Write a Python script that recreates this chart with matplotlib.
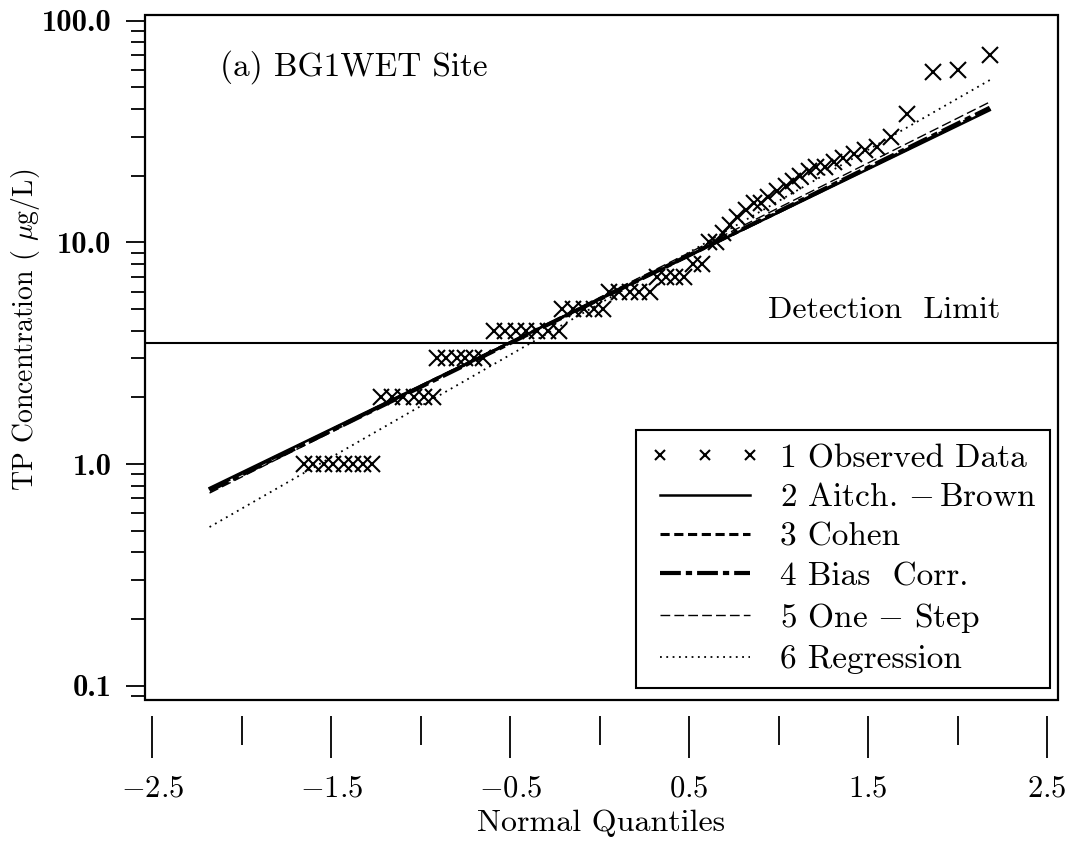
import matplotlib
matplotlib.use("Agg")
import matplotlib.pyplot as plt
from matplotlib.patches import Rectangle
from matplotlib.ticker import FixedLocator, LogLocator, NullFormatter

plt.rcParams["font.family"] = "cmr10"
plt.rcParams["mathtext.fontset"] = "cm"
plt.rcParams["axes.unicode_minus"] = False

# observed data (normal quantile, concentration)
obs_q = [-1.65, -1.60, -1.54, -1.49, -1.43, -1.38, -1.32, -1.27,
         -1.22, -1.16, -1.10, -1.04, -0.98, -0.93,
         -0.91, -0.86, -0.80, -0.75, -0.70, -0.65,
         -0.59, -0.53, -0.47, -0.41, -0.35, -0.29, -0.23,
         -0.21, -0.15, -0.09, -0.03, 0.02,
         0.05, 0.11, 0.17, 0.22, 0.28,
         0.32, 0.37, 0.42, 0.47,
         0.52, 0.57, 0.61, 0.65, 0.69, 0.73, 0.77, 0.82, 0.86, 0.90,
         0.94, 0.99, 1.04, 1.08, 1.12, 1.17, 1.21, 1.26, 1.31, 1.36,
         1.42, 1.48, 1.55, 1.63, 1.72, 1.86, 2.00, 2.18]
obs_val = [1.0] * 8 + [2.0] * 6 + [3.0] * 6 + [4.0] * 7 + [5.0] * 5 + [6.0] * 5 + [7.0] * 4 + \
          [8.0, 8.0, 10.0, 10.0, 11.0, 12.0, 13.0, 14.0, 15.0, 15.0,
           16.0, 17.0, 18.0, 19.0, 20.0, 21.0, 22.0, 22.0, 23.0, 24.0,
           25.0, 26.0, 27.0, 30.0, 38.0, 59.0, 60.0, 70.0]

# fitted lognormal lines, values at both ends of the quantile range
fit_q = [-2.18, 2.18]
aitch_brown = [0.78, 39.5]
cohen = [0.77, 40.0]
bias_corr = [0.76, 40.5]
one_step = [0.74, 43.0]
regression = [0.52, 54.0]

detection_limit = 3.5

x_major = [-2.5, -1.5, -0.5, 0.5, 1.5, 2.5]
x_minor = [-2.0, -1.0, 0.0, 1.0, 2.0]
x_labels = [r"$-2.5$", r"$-1.5$", r"$-0.5$", r"$0.5$", r"$1.5$", r"$2.5$"]
y_major = [0.1, 1.0, 10.0, 100.0]
y_labels = ["0.1", "1.0", "10.0", "100.0"]

fig = plt.figure(figsize=(10.75, 8.41), dpi=100)
ax = fig.add_axes([0.135, 0.168, 0.849, 0.814])

# ticks hang below the frame with a small gap (set first: it resets the ticks)
ax.spines["bottom"].set_position(("outward", 12))
for s in ax.spines.values():
    s.set_visible(False)
ax.add_patch(Rectangle((0, 0), 1, 1, transform=ax.transAxes, fill=False,
                       lw=1.6, edgecolor="black", clip_on=False))

ax.plot(obs_q, obs_val, linestyle="none", marker="x", markersize=11,
        markeredgewidth=1.5, color="black", label="1 Observed Data")
ax.plot(fit_q, aitch_brown, color="black", lw=1.8, label=r"2 Aitch. $-\,$Brown")
ax.plot(fit_q, cohen, color="black", lw=2.2, linestyle=(0, (3, 1.5)), label="3 Cohen")
ax.plot(fit_q, bias_corr, color="black", lw=3.0, linestyle=(0, (5, 1.2, 1.5, 1.2)),
        label="4 Bias  Corr.")
ax.plot(fit_q, one_step, color="black", lw=1.0, linestyle=(0, (7, 3)),
        label=r"5 One$\,-\,$Step")
ax.plot(fit_q, regression, color="black", lw=1.3, linestyle=(0, (1, 2.5)), label="6 Regression")

ax.axhline(detection_limit, color="black", lw=1.5)

ax.set_yscale("log")
ax.set_xlim(-2.54, 2.56)
ax.set_ylim(0.0865, 106)

ax.xaxis.set_major_locator(FixedLocator(x_major))
ax.xaxis.set_minor_locator(FixedLocator(x_minor))
ax.set_xticklabels(x_labels, fontsize=22)
ax.yaxis.set_major_locator(FixedLocator(y_major))
ax.yaxis.set_minor_locator(LogLocator(base=10, subs=range(2, 10)))
ax.yaxis.set_minor_formatter(NullFormatter())
ax.set_yticklabels(y_labels, fontsize=22, fontfamily="cmb10")

ax.tick_params(axis="x", which="major", direction="out", length=30, width=1.3, pad=12)
ax.tick_params(axis="x", which="minor", direction="out", length=21, width=1.3)
ax.tick_params(axis="y", which="major", direction="out", length=14, width=1.3, pad=10)
ax.tick_params(axis="y", which="minor", direction="out", length=10, width=1.3)

ax.set_xlabel("Normal Quantiles", fontsize=23, labelpad=5.5)
ax.set_ylabel(r"TP Concentration ( $\mu$g/L)", fontsize=20)
ax.yaxis.set_label_coords(-0.113, 0.54)

ax.text(0.082, 0.924, "(a) BG1WET Site", transform=ax.transAxes, fontsize=24, va="center")
ax.text(0.682, 0.569, "Detection  Limit", transform=ax.transAxes, fontsize=23, va="center")

leg = ax.legend(loc="lower right", bbox_to_anchor=(0.991, 0.0175), borderaxespad=0,
                fontsize=24, numpoints=3, markerscale=0.6, handlelength=3.3,
                handletextpad=0.6, labelspacing=0.3, fancybox=False,
                edgecolor="black", framealpha=1, borderpad=0.4)
leg.get_frame().set_linewidth(1.5)

fig.savefig("out.png", dpi=100)
